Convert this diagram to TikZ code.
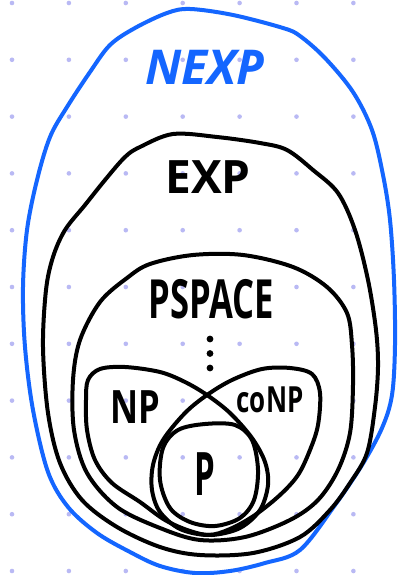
\documentclass[tikz,border=0pt]{standalone}
\usepackage{fontspec}
\usepackage{tikz}
\newfontfamily\hand{Open Sans}
\definecolor{nexpblue}{HTML}{1466FF}
\definecolor{griddots}{HTML}{B9B9F4}

\begin{document}
\begin{tikzpicture}[x=1pt, y=-1pt,
  stroke/.style={line width=4pt, line join=round, line cap=round},
  outerset/.style={stroke, draw=nexpblue},
  innerset/.style={stroke, draw=black},
  classlabel/.style={inner sep=0pt, text=black},
  griddot/.style={fill=griddots, draw=none}
]
  \useasboundingbox (0,0) rectangle (398,575);
  \fill[white] (0,0) rectangle (398,575);

  % dotted paper
  \foreach \i in {0,...,6}
    \foreach \j in {0,...,10}
      \fill[griddot] (12+56.9*\i, 3+56.8*\j) circle (2.3);

  % NEXP
  \draw[outerset] plot[smooth cycle, tension=0.55] coordinates {
    (50,137) (67,107) (90,72) (110,45) (135,28) (167,13) (190,9) (233,15)
    (283,28) (300,36) (325,58) (353,92) (372,130) (383,175) (390,220)
    (394,280) (395,345) (392,395) (382,428) (362,465) (335,505) (300,550)
    (265,563) (230,571) (195,573) (160,566) (130,552) (97,533) (68,507)
    (48,472) (33,410) (25,347) (23,287) (27,230) (37,180)};

  % EXP
  \draw[innerset] plot[smooth cycle, tension=0.55] coordinates {
    (140,147) (173,134) (217,137) (260,143) (287,150) (313,170) (338,193)
    (355,230) (368,280) (376,330) (378,367) (375,407) (367,453) (350,483)
    (330,510) (300,537) (253,553) (200,555) (160,547) (117,527) (82,500)
    (60,463) (48,413) (43,347) (46,290) (53,257) (65,230) (85,205)
    (105,180) (125,157)};

  % PSPACE
  \draw[innerset] plot[smooth cycle, tension=0.55] coordinates {
    (150,264) (193,255) (243,255) (293,267) (327,287) (347,313) (352,345)
    (353,385) (350,433) (338,470) (318,500) (290,520) (245,537) (200,540)
    (160,528) (117,507) (87,473) (74,430) (73,380) (80,340) (100,302)
    (127,278)};

  % NP and coNP lobes
  \draw[innerset] plot[smooth cycle, tension=0.55] coordinates {
    (207,395) (185,382) (160,372) (125,367) (100,369) (88,380) (86,400)
    (87,430) (95,460) (112,483) (140,502) (165,520) (190,531) (212,535)
    (240,528) (260,510) (268,485) (265,462) (252,438) (230,413)};
  \draw[innerset] plot[smooth cycle, tension=0.55] coordinates {
    (207,395) (232,380) (262,369) (290,368) (312,374) (320,393) (318,425)
    (310,450) (298,475) (280,495) (255,515) (230,529) (208,535) (180,529)
    (160,512) (152,490) (153,465) (163,440) (185,413)};

  % P
  \draw[innerset] plot[smooth cycle, tension=0.55] coordinates {
    (205,424) (235,425) (252,440) (258,470) (254,500) (240,518) (215,526)
    (190,522) (170,508) (160,480) (163,448) (178,430)};

  % vertical dots
  \foreach \k in {0,1,2}
    \fill (210,339+14.5*\k) circle (3.4);

  \node[classlabel, text=nexpblue, font=\hand\bfseries\itshape\fontsize{48}{48}\selectfont] (nexp) at (205,67) {NEXP};
  \node[classlabel, font=\hand\bfseries\fontsize{46}{46}\selectfont] (exp) at (208,177) {EXP};
  \node[classlabel, font=\hand\bfseries\fontsize{54}{54}\selectfont] (pspace) at (211,299) {\scalebox{0.64}[1]{PSPACE}};
  \node[classlabel, font=\hand\bfseries\fontsize{46}{46}\selectfont] (np) at (135,407) {\scalebox{0.75}[1]{NP}};
  \node[classlabel, font=\hand\bfseries\fontsize{36}{36}\selectfont] (conp) at (270,400) {\scalebox{0.72}[1]{coNP}};
  \node[classlabel, font=\hand\bfseries\fontsize{60}{60}\selectfont] (p) at (205,474) {\scalebox{0.55}[1]{P}};
\end{tikzpicture}
\end{document}
